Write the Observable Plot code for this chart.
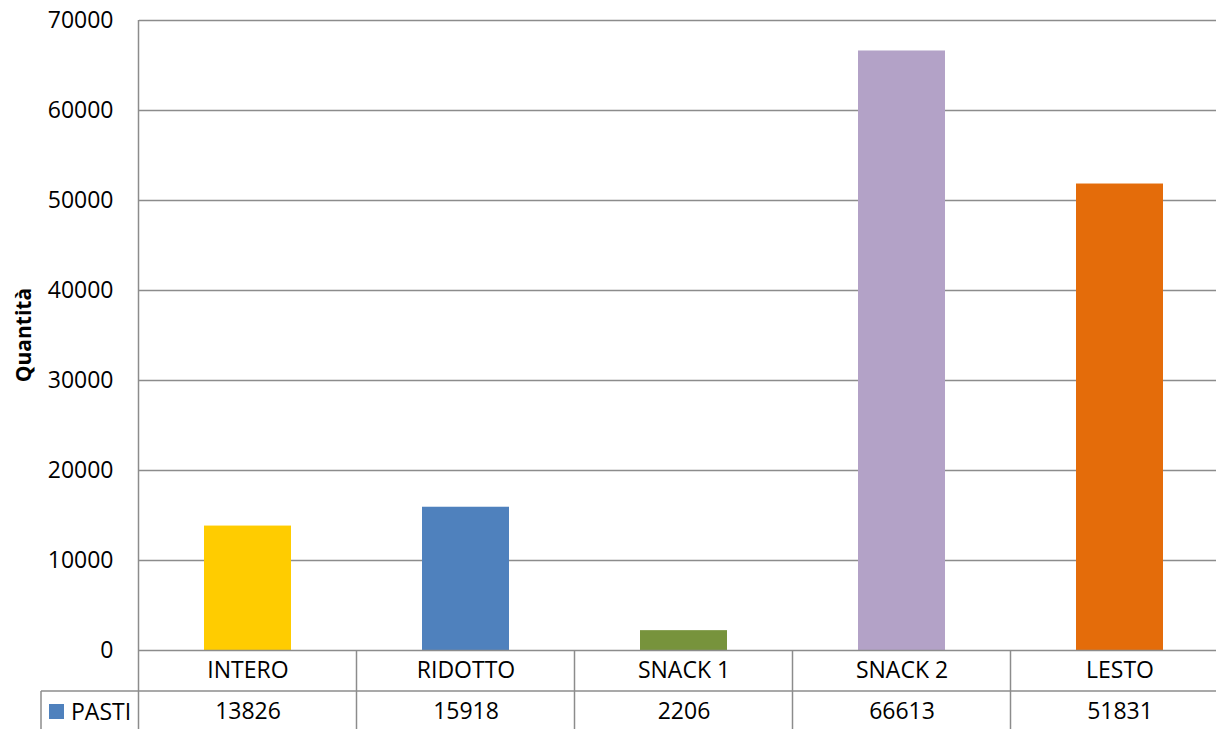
<!DOCTYPE html>
<html><head><meta charset="utf-8">
<script src="https://cdn.jsdelivr.net/npm/d3@7"></script>
<script src="https://cdn.jsdelivr.net/npm/@observablehq/plot@0.6"></script>
<style>body{margin:0;background:#fff}svg{display:block}</style>
</head><body><div id="chart"></div>
<script>
const categories = ["INTERO", "RIDOTTO", "SNACK 1", "SNACK 2", "LESTO"];
const values = [13826, 15918, 2206, 66613, 51831];
const colors = ["#FFCC00", "#4F81BD", "#77933C", "#B3A2C7", "#E46C0A"];
const seriesName = "PASTI";
const seriesColor = "#4F81BD";
const yTicks = [0, 10000, 20000, 30000, 40000, 50000, 60000, 70000];
const yLabel = "Quantità";

const data = categories.map((c, i) => ({cat: c, value: values[i]}));
const font = "'Open Sans', 'Liberation Sans', sans-serif";
const fs = 23;
const gridColor = "#8c8c8c";
const W = 1216, H = 729;

const chart = Plot.plot({
  width: W, height: H,
  marginTop: 20, marginBottom: 79, marginLeft: 139, marginRight: 0,
  style: {fontFamily: font, fontSize: fs + "px", color: "#000", background: "#fff"},
  x: {domain: categories, range: [139, 1229], paddingInner: 0.6, paddingOuter: 0.3, axis: null},
  y: {domain: [0, 70000], axis: null},
  color: {domain: categories, range: colors},
  marks: [
    Plot.gridY(yTicks.filter(d => d > 0), {stroke: gridColor, strokeOpacity: 1, strokeWidth: 1.5}),
    Plot.barY(data, {x: "cat", y: "value", fill: "cat"}),
    Plot.ruleY([0], {stroke: gridColor, strokeWidth: 1.5}),
    Plot.axisY(yTicks, {tickSize: 0, tickPadding: 26, tickFormat: d => String(d), fontSize: fs, label: null, fill: "#000"}),
    Plot.text(categories, {x: d => d, frameAnchor: "bottom", dy: 27, fontSize: fs, fill: "#000"}),
    Plot.text(data, {x: "cat", text: d => String(d.value), frameAnchor: "bottom", dy: 68, fontSize: fs, fill: "#000"})
  ]
});
document.getElementById("chart").appendChild(chart);

// Data table grid drawn from the Plot scales
const svg = d3.select(chart);
const xs = chart.scale("x");
const ys = chart.scale("y");
const half = (xs.step - xs.bandwidth) / 2;
const y0 = ys.apply(0);
const yTop = ys.apply(d3.max(yTicks));
const rowH = 41;
const legendLeft = 41;
const g = svg.append("g").attr("stroke", gridColor).attr("stroke-width", 1.5).attr("fill", "none");
const left = xs.apply(categories[0]) - half;
g.append("line").attr("x1", left).attr("x2", left).attr("y1", yTop).attr("y2", H);
categories.slice(1).forEach(c => {
  const x = xs.apply(c) - half;
  g.append("line").attr("x1", x).attr("x2", x).attr("y1", y0).attr("y2", H);
});
g.append("line").attr("x1", legendLeft).attr("x2", W).attr("y1", y0 + rowH).attr("y2", y0 + rowH);
g.append("line").attr("x1", legendLeft).attr("x2", legendLeft).attr("y1", y0 + rowH).attr("y2", H);

// legend key in table
svg.append("rect").attr("x", 49).attr("y", y0 + rowH + 13).attr("width", 15).attr("height", 15)
  .attr("fill", seriesColor).attr("stroke", "none");
svg.append("text").attr("x", 71).attr("y", y0 + rowH + 21).attr("dy", "0.35em")
  .attr("text-anchor", "start")
  .attr("font-family", font).attr("font-size", fs).attr("fill", "#000").text(seriesName);

// y-axis title
svg.append("text").attr("transform", `translate(31,${(y0 + yTop) / 2}) rotate(-90)`)
  .attr("text-anchor", "middle").attr("font-family", font).attr("font-size", 21)
  .attr("font-weight", "bold").attr("fill", "#000").text(yLabel);
</script>
</body></html>
